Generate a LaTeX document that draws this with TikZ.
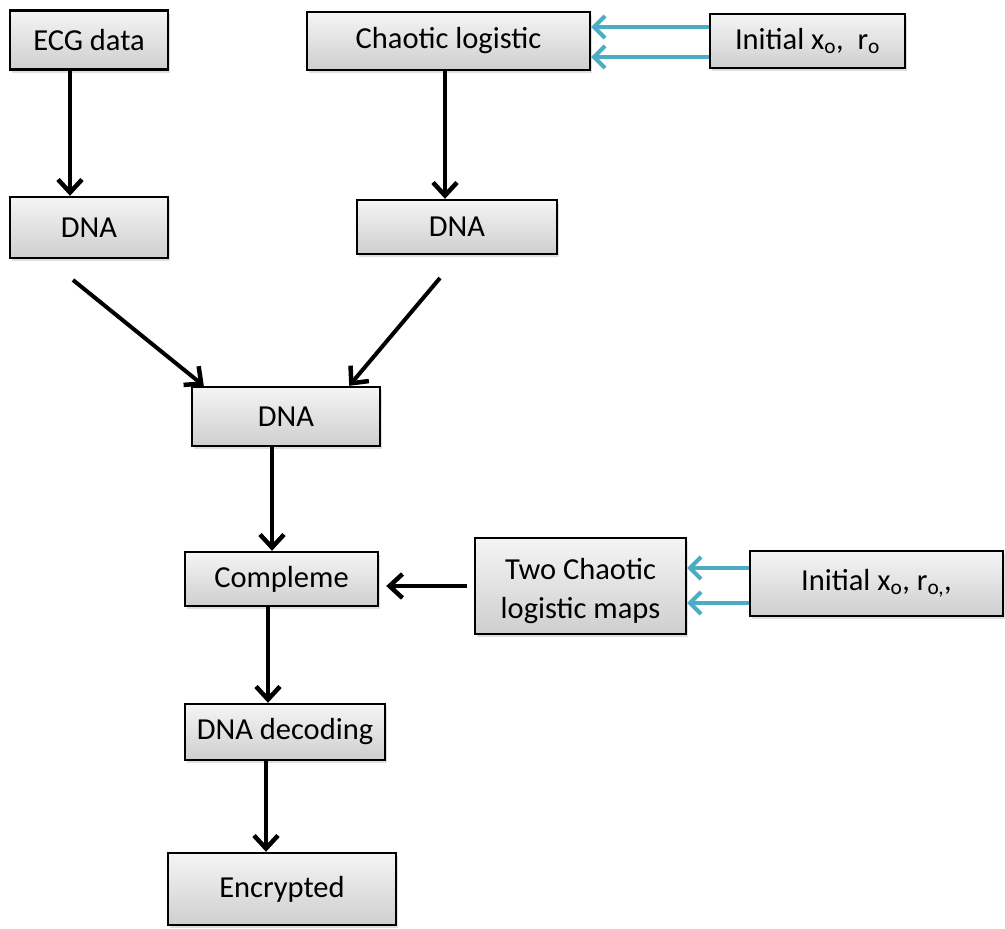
\documentclass[tikz,border=0pt]{standalone}
\usepackage{fontspec}
\setmainfont{Carlito}
\usetikzlibrary{arrows.meta,shadows,calc}
\definecolor{cyanarr}{HTML}{4BACC6}
\tikzset{
  box/.style={draw=black, line width=2.4pt, rectangle, inner sep=0pt,
    top color=gray!8, bottom color=gray!38, align=center,
    font=\fontsize{30.5}{40}\selectfont,
    drop shadow={shadow xshift=2pt, shadow yshift=-3pt, opacity=0.25}},
  arr/.style={draw=black, line width=4pt, -{Straight Barb[length=13pt,width=24pt,line width=4.5pt]}},
  barr/.style={draw=cyanarr, line width=4.5pt, -{Straight Barb[length=11pt,width=22pt,line width=4pt]}}
}
\begin{document}
\begin{tikzpicture}[x=1pt,y=-1pt]
\useasboundingbox (0,0) rectangle (1005,929);
\node[box, minimum width=158pt, minimum height=59pt] (ecg) at (89,40) {ECG data};
\node[box, minimum width=283pt, minimum height=58pt] (chaotic) at (448.5,41) {Chaotic logistic};
\node[box, minimum width=195pt, minimum height=54pt] (init1) at (807.5,41) {Initial x\textsubscript{o},\ \ r\textsubscript{o}};
\node[box, minimum width=158pt, minimum height=61pt] (dnaL) at (89,227.5) {DNA};
\node[box, minimum width=200pt, minimum height=54pt] (dnaR) at (457,227) {DNA};
\node[box, minimum width=188pt, minimum height=59pt] (dnaC) at (286,416.5) {DNA};
\node[box, minimum width=193pt, minimum height=54pt] (comp) at (281.5,579) {Compleme};
\node[box, minimum width=211pt, minimum height=96pt, font=\fontsize{30.5}{44}\selectfont, text depth=0pt] (two) at (580.5,586) {};
\node[font=\fontsize{30.5}{44}\selectfont] (twoA) at (580.5,569) {Two Chaotic};
\node[font=\fontsize{30.5}{44}\selectfont] (twoB) at (580.5,611) {logistic maps};
\node[box, minimum width=253pt, minimum height=65pt] (init2) at (876.5,583.5) {Initial x\textsubscript{o}, r\textsubscript{o,},};
\node[box, minimum width=200pt, minimum height=56pt] (dec) at (285,732) {DNA decoding};
\node[box, minimum width=228pt, minimum height=72pt] (enc) at (282,889) {Encrypted};
\coordinate (sL) at (73,280);
\coordinate (sR) at (440,278);
% black arrows
\draw[arr] ([xshift=-19pt]ecg.south) -- ([xshift=-19pt]dnaL.north);
\draw[arr] ([xshift=-3.5pt]chaotic.south) -- ([xshift=-3.5pt]chaotic.south |- dnaR.north);
\draw[arr] (sL) -- ([xshift=13pt]dnaC.north west);
\draw[arr] (sR) -- ([xshift=-32pt]dnaC.north east);
\draw[arr] ([xshift=-14pt]dnaC.south) -- ([xshift=-14pt]dnaC.south |- comp.north);
\draw[arr, shorten <=7pt, shorten >=7pt] ([yshift=-7pt]comp.east -| two.west) -- ([yshift=-7pt]comp.east);
\draw[arr] ([xshift=-13.5pt]comp.south) -- ([xshift=-13.5pt]comp.south |- dec.north);
\draw[arr] ([xshift=-19pt]dec.south) -- ([xshift=-19pt]dec.south |- enc.north);
% blue arrows
\draw[barr] ([yshift=14pt]init1.west) -- ([yshift=14pt]init1.west -| chaotic.east);
\draw[barr] ([yshift=-16pt]init1.west) -- ([yshift=-16pt]init1.west -| chaotic.east);
\draw[barr] ([yshift=15.5pt]init2.west) -- ([yshift=15.5pt]init2.west -| two.east);
\draw[barr] ([yshift=-19.5pt]init2.west) -- ([yshift=-19.5pt]init2.west -| two.east);
\end{tikzpicture}
\end{document}
